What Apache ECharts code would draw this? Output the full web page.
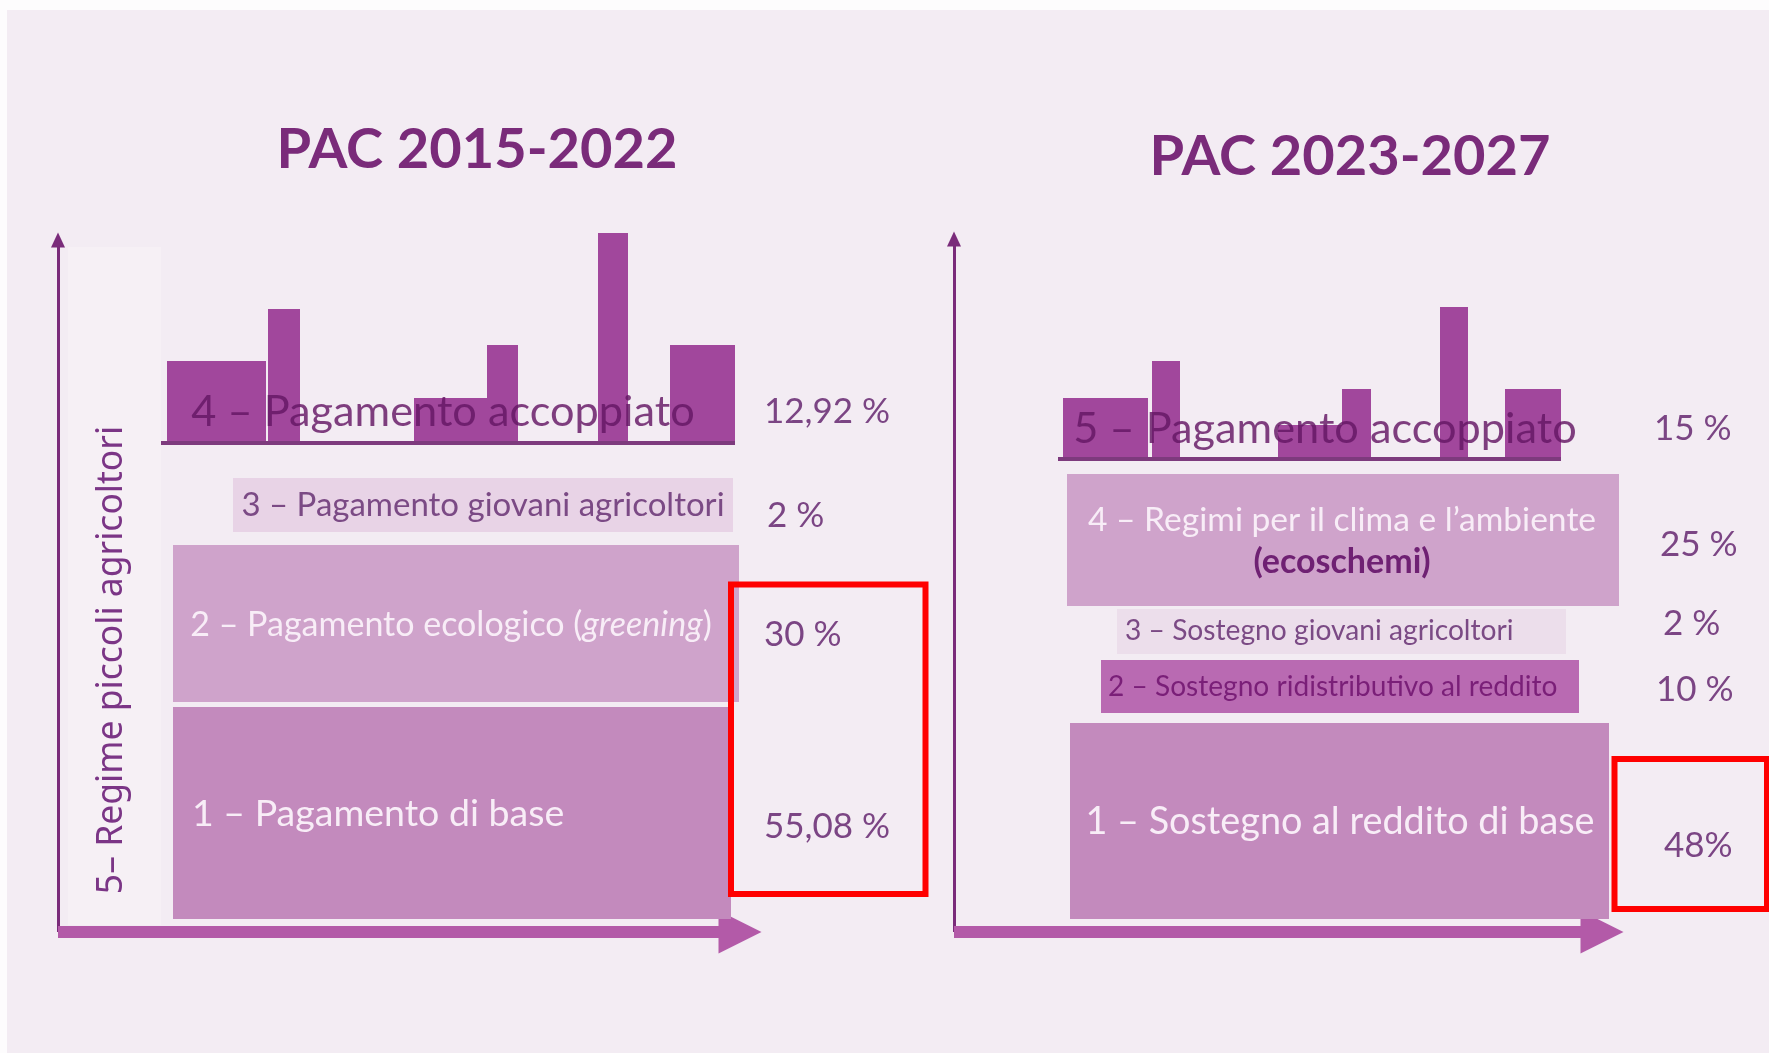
<!DOCTYPE html>
<html>
<head>
<meta charset="utf-8">
<script src="https://cdn.jsdelivr.net/npm/echarts@6/dist/echarts.min.js"></script>
<style>
html,body{margin:0;padding:0;background:#f3ecf3;}
#chart{width:1769px;height:1053px;}
</style>
</head>
<body>
<div id="chart"></div>
<script>
// ---------------- DATA ----------------
const panelTitles = ['PAC 2015-2022', 'PAC 2023-2027'];

const schemes2015 = ['1 – Pagamento di base', '2 – Pagamento ecologico (greening)', '3 – Pagamento giovani agricoltori', '4 – Pagamento accoppiato'];
const shares2015 = [55.08, 30, 2, 12.92];
const shareLabels2015 = ['55,08 %', '30 %', '2 %', '12,92 %'];
const smallFarmers2015 = '5– Regime piccoli agricoltori';

const schemes2023 = ['1 – Sostegno al reddito di base', '2 – Sostegno ridistributivo al reddito', '3 – Sostegno giovani agricoltori', '4 – Regimi per il clima e l’ambiente', '5 – Pagamento accoppiato'];
const schemeNotes2023 = ['', '', '', '(ecoschemi)', ''];
const shares2023 = [48, 10, 2, 25, 15];
const shareLabels2023 = ['48%', '10 %', '2 %', '25 %', '15 %'];

// decorative "skyline" bar heights above the coupled-payment baseline
const skyline2015 = [82, 134, 45, 98, 210, 98];
const skyline2023 = [61, 98, 34, 70, 152, 70];

// ---------------- LAYOUT (axis units, origin at the axes corner) ----------------
const FONT = 'Lato';
const C = {
  bg: '#f3ecf3', dark: '#7a2b7a', bar: '#a1479c', base: '#7d3a7d',
  coupledText: 'rgba(100,22,100,0.82)', white: '#f8edf7', pct: '#7b4584',
  vert: '#7b3586', band: '#f6f0f5', axisV: '#7a2b7a', axisH: '#b35aa8', red: '#ff0000'
};
const PANELS = [
  {
    grid: {left: 58, top: 240, width: 682, height: 692},
    skyBase: 489,
    bars: [[109,208],[210,242],[356,429],[429,460],[540,570],[612,677]],
    layers: [
      {x:[115,673], y:[13,225], fill:'#c38abd', color:C.white, size:37.5, align:'left', tx:134, ty:118, px:706, py:105},
      {x:[115,681], y:[230,387], fill:'#cfa3cb', color:C.white, size:34, align:'center', tx:393, ty:307, px:706, py:297},
      {x:[175,675], y:[400,454], fill:'#e8d3e6', color:'#7b4a85', size:33, align:'center', tx:425, ty:427, px:709, py:416},
      {baseline:true, x:[103,677], color:C.coupledText, size:43.3, align:'center', tx:385, ty:520, px:706, py:520}
    ],
    band: {x:[10,103], y:[7,685], tx:54, ty:272},
    red: {x:[673,867.5], y:[38,347.5]},
    title: {x: 477, y: 150}
  },
  {
    grid: {left: 954, top: 239, width: 648, height: 693},
    skyBase: 473,
    bars: [[109,194],[198,226],[324,388],[388,417],[486,514],[551,607]],
    layers: [
      {x:[116,655], y:[13,209], fill:'#c38abd', color:C.white, size:37.8, align:'center', tx:386, ty:110, px:710, py:86},
      {x:[147,625], y:[219,272], fill:'#b96ab2', color:'#7a1f78', size:28.1, align:'left', tx:154, ty:245, px:702, py:242},
      {x:[163,612], y:[278,323], fill:'#ecdeeb', color:'#7b4a85', size:28.2, align:'left', tx:171, ty:301, px:709, py:308},
      {x:[113,665], y:[326,458], fill:'#cfa3cb', color:C.white, size:33.6, align:'center', tx:388, ty:412, px:706, py:387,
        note:{ty:370, color:'#6f2173', size:34}},
      {baseline:true, x:[104,607], color:C.coupledText, size:43.3, align:'center', tx:371, ty:503, px:700, py:503}
    ],
    red: {x:[660.5,813], y:[23,173]},
    title: {x: 1350, y: 157}
  }
];

const panelData = [
  {labels: schemes2015, notes: [], shares: shares2015, shareLabels: shareLabels2015, skyline: skyline2015},
  {labels: schemes2023, notes: schemeNotes2023, shares: shares2023, shareLabels: shareLabels2023, skyline: skyline2023}
];

// ---------------- CHART ----------------
const chart = echarts.init(document.getElementById('chart'), null, {renderer: 'canvas'});

function rectFrom(api, xr, yr, style) {
  const a = api.coord([xr[0], yr[1]]);
  const b = api.coord([xr[1], yr[0]]);
  return {type: 'rect', shape: {x: a[0], y: a[1], width: b[0] - a[0], height: b[1] - a[1]}, style: style};
}

const grids = [], xAxes = [], yAxes = [], series = [];
PANELS.forEach(function (P, p) {
  const D = panelData[p];
  grids.push(Object.assign({}, P.grid));
  xAxes.push({
    type: 'value', gridIndex: p, min: 0, max: P.grid.width,
    axisLine: {show: true, onZero: false, symbol: ['none', 'triangle'], symbolSize: [43, 43],
      lineStyle: {color: C.axisH, width: 12, cap: 'butt'}},
    axisTick: {show: false}, axisLabel: {show: false}, splitLine: {show: false}
  });
  yAxes.push({
    type: 'value', gridIndex: p, min: 0, max: P.grid.height,
    axisLine: {show: true, onZero: false, symbol: ['none', 'triangle'], symbolSize: [14, 15],
      lineStyle: {color: C.axisV, width: 3, cap: 'butt'}},
    axisTick: {show: false}, axisLabel: {show: false}, splitLine: {show: false}
  });

  // background band + vertical label
  series.push({
    type: 'custom', xAxisIndex: p, yAxisIndex: p, silent: true, z: 1, clip: false,
    data: [[0, 0]],
    renderItem: function (params, api) {
      const ch = [];
      if (P.band) {
        ch.push(rectFrom(api, P.band.x, P.band.y, {fill: C.band}));
        const t = api.coord([P.band.tx, P.band.ty]);
        ch.push({type: 'text', x: t[0], y: t[1], rotation: Math.PI / 2,
          style: {text: smallFarmers2015, fill: C.vert, fontSize: 35.5, fontFamily: 'Noto Sans',
            align: 'center', verticalAlign: 'middle'}});
      }
      return {type: 'group', children: ch};
    }
  });

  // skyline bars
  series.push({
    type: 'custom', xAxisIndex: p, yAxisIndex: p, silent: true, z: 2, clip: false,
    data: D.skyline.map(function (h, i) { return [i, h]; }),
    renderItem: function (params, api) {
      const r = P.bars[params.dataIndex];
      const h = api.value(1);
      return rectFrom(api, r, [P.skyBase, P.skyBase + h], {fill: C.bar});
    }
  });

  // payment layers
  series.push({
    type: 'custom', xAxisIndex: p, yAxisIndex: p, silent: true, z: 3, clip: false,
    data: D.shares.map(function (v, i) { return [i, v]; }),
    renderItem: function (params, api) {
      const i = params.dataIndex, L = P.layers[i], ch = [];
      if (L.baseline) {
        const a = api.coord([L.x[0], P.skyBase]), b = api.coord([L.x[1], P.skyBase]);
        ch.push({type: 'rect', shape: {x: a[0], y: a[1] - 2, width: b[0] - a[0], height: 4}, style: {fill: C.base}});
      } else {
        ch.push(rectFrom(api, L.x, L.y, {fill: L.fill}));
      }
      const t = api.coord([L.tx, L.ty]);
      const txt = D.labels[i].replace(/\((\w+)\)/, '({it|$1})');
      ch.push({type: 'text', x: t[0], y: t[1], style: {
        text: txt, fill: L.color, fontSize: L.size, fontFamily: FONT, align: L.align, verticalAlign: 'middle',
        rich: {it: {fontStyle: 'italic', fontSize: L.size, fontFamily: FONT, fill: L.color}}
      }});
      if (L.note && D.notes[i]) {
        const n = api.coord([L.tx, L.note.ty]);
        ch.push({type: 'text', x: n[0], y: n[1], style: {text: D.notes[i], fill: L.note.color,
          fontSize: L.note.size, fontWeight: 'bold', fontFamily: FONT, align: 'center', verticalAlign: 'middle'}});
      }
      const pc = api.coord([L.px, L.py]);
      ch.push({type: 'text', x: pc[0], y: pc[1], style: {text: D.shareLabels[i], fill: C.pct,
        fontSize: 35, fontFamily: FONT, align: 'left', verticalAlign: 'middle'}});
      return {type: 'group', children: ch};
    }
  });

  // red highlight box
  series.push({
    type: 'custom', xAxisIndex: p, yAxisIndex: p, silent: true, z: 5, clip: false,
    data: [[0, 0]],
    renderItem: function (params, api) {
      return rectFrom(api, P.red.x, P.red.y, {fill: 'none', stroke: C.red, lineWidth: 6});
    }
  });
});

chart.setOption({
  backgroundColor: C.bg,
  animation: false,
  title: PANELS.map(function (P, p) {
    return {text: panelTitles[p], left: P.title.x, top: P.title.y, padding: 0,
      textAlign: 'center', textVerticalAlign: 'middle',
      textStyle: {fontSize: 56, fontWeight: 'bold', fontFamily: FONT, color: C.dark}};
  }),
  graphic: [
    {type: 'rect', left: 0, top: 0, z: 100, shape: {width: 1769, height: 10}, style: {fill: '#fdfcfd'}},
    {type: 'rect', left: 0, top: 0, z: 100, shape: {width: 7, height: 1053}, style: {fill: '#fdfcfd'}}
  ],
  grid: grids,
  xAxis: xAxes,
  yAxis: yAxes,
  series: series
});
</script>
</body>
</html>
